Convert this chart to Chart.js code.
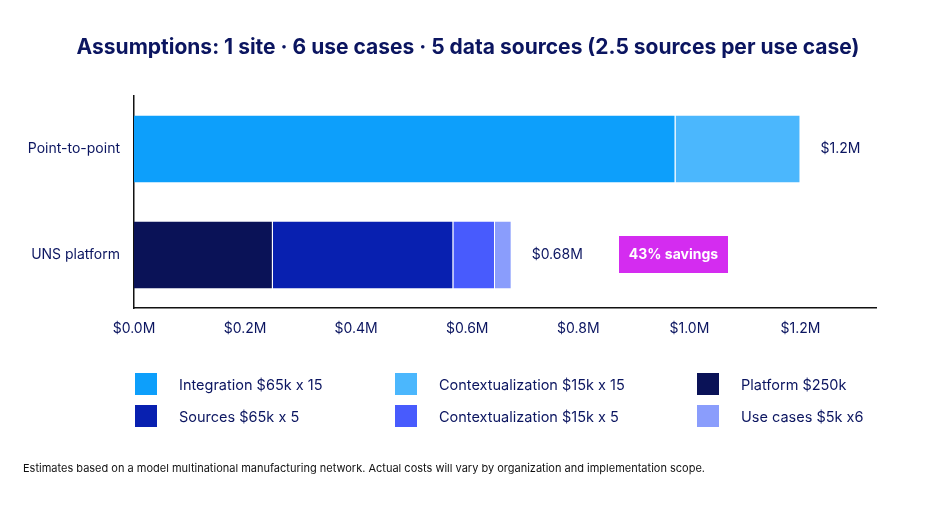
<!DOCTYPE html>
<html><head><meta charset="utf-8">
<script src="https://cdn.jsdelivr.net/npm/chart.js@4"></script>
<style>
body{margin:0;background:#fff;font-family:Inter,sans-serif;}
#wrap{position:relative;width:936px;height:507px;}
canvas{position:absolute;left:0;top:0;}
#title{position:absolute;top:34px;left:0;width:936px;text-align:center;font-size:21px;font-weight:700;color:#0b1560;}
.lg{position:absolute;font-size:14.5px;color:#0b1560;display:flex;align-items:center;}
.lg span{display:inline-block;width:22px;height:22px;margin-right:22px;}
#foot{position:absolute;left:23px;top:461px;font-size:11px;color:#111;}
</style></head><body>
<div id="wrap">
<canvas id="c" width="936" height="507"></canvas>
<div id="title">Assumptions: 1 site · 6 use cases · 5 data sources (2.5 sources per use case)</div>
<div id="legend"></div>
<div id="foot">Estimates based on a model multinational manufacturing network. Actual costs will vary by organization and implementation scope.</div>
</div>
<script>
const categories = ["Point-to-point", "UNS platform"];
const seriesNames = ["Integration $65k x 15","Contextualization $15k x 15","Platform $250k","Sources $65k x 5","Contextualization $15k x 5","Use cases $5k x6"];
const seriesColors = ["#0d9ffb","#4bb7fd","#0a1257","#0820b0","#485bfd","#8a9dfc"];
const integration = [0.975, null];
const context15 = [0.225, null];
const platform = [null, 0.25];
const sources = [null, 0.325];
const context5 = [null, 0.075];
const usecases = [null, 0.03];
const totalLabels = ["$1.2M", "$0.68M"];
const totals = [1.2, 0.68];
const tickValues = [0,0.2,0.4,0.6,0.8,1.0,1.2];
const values = [integration, context15, platform, sources, context5, usecases];

// legend
const pos = [[135,373],[395,373],[697,373],[135,405],[395,405],[697,405]];
const order = [0,1,2,3,4,5];
const lg = document.getElementById('legend');
order.forEach((i,k)=>{const d=document.createElement('div');d.className='lg';d.style.left=pos[k][0]+'px';d.style.top=pos[k][1]+'px';d.innerHTML='<span style="background:'+seriesColors[i]+'"></span>'+seriesNames[i];lg.appendChild(d);});

const endLabels = {id:'endLabels', afterDatasetsDraw(ch){
  const c=ch.ctx, x=ch.scales.x, y=ch.scales.y;
  c.save(); c.font='14px Inter'; c.fillStyle='#0b1560'; c.textBaseline='middle';
  totals.forEach((t,i)=>{c.fillText(totalLabels[i], x.getPixelForValue(t)+20, y.getPixelForValue(i));});
  const yy=y.getPixelForValue(1);
  c.fillStyle='#d42cf0'; c.fillRect(619,yy-19,109,37);
  c.fillStyle='#fff'; c.font='bold 14px Inter'; c.textAlign='center'; c.fillText('43% savings',673.5,yy);
  c.restore();
}};

new Chart(document.getElementById('c'),{
  type:'bar',
  data:{labels:categories,datasets:values.map((v,i)=>({label:seriesNames[i],data:v,backgroundColor:seriesColors[i],borderColor:'#fff',borderWidth:{right:1},borderSkipped:false,barPercentage:0.63,categoryPercentage:1}))},
  options:{indexAxis:'y',responsive:false,animation:false,
    layout:{padding:{left:0,right:60,top:96,bottom:159}},
    plugins:{legend:{display:false},tooltip:{enabled:false}},
    scales:{
      x:{stacked:true,min:0,max:1.336,
        afterBuildTicks:s=>{s.ticks=tickValues.map(v=>({value:v}));},
        afterFit:s=>{s.height=40;},
        grid:{display:false,drawTicks:false},border:{color:'#111',width:1.5},
        ticks:{padding:12,color:'#0b1560',font:{family:'Inter',size:14},callback:v=>'$'+v.toFixed(1)+'M'}},
      y:{stacked:true,afterFit:s=>{s.width=134;},
        grid:{display:false,drawTicks:false},border:{color:'#111',width:1.5},
        ticks:{padding:14,color:'#0b1560',font:{family:'Inter',size:14}}}
    }},
  plugins:[endLabels]
});
</script>
</body></html>
